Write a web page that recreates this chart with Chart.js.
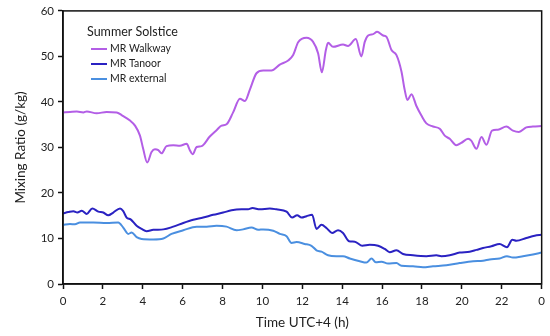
<!DOCTYPE html>
<html>
<head>
<meta charset="utf-8">
<script src="https://cdn.jsdelivr.net/npm/chart.js@4"></script>
<style>
  html, body { margin: 0; padding: 0; background: #fff; }
  #wrap { width: 550px; height: 336px; }
</style>
</head>
<body>
<div id="wrap"><canvas id="mrChart" width="550" height="336"></canvas></div>
<script>
// hours (UTC+4) and mixing ratio (g/kg)
const walkwayHours = [0, 0.35, 0.69, 1.02, 1.19, 1.69, 2.19, 2.69, 2.94, 3.36, 3.61, 3.86, 4.02, 4.22, 4.44, 4.61, 4.78, 4.94, 5.19, 5.53, 5.86, 6.2, 6.36, 6.5, 6.7, 6.95, 7.36, 7.7, 7.95, 8.2, 8.53, 8.87, 9.12, 9.37, 9.7, 10.04, 10.45, 10.87, 11.29, 11.54, 11.79, 12.21, 12.54, 12.79, 12.98, 13.18, 13.29, 13.54, 14.04, 14.29, 14.68, 14.96, 15.13, 15.3, 15.55, 15.75, 16.05, 16.22, 16.47, 16.72, 16.97, 17.13, 17.27, 17.47, 17.72, 17.97, 18.22, 18.55, 18.89, 19.14, 19.39, 19.72, 19.97, 20.31, 20.47, 20.73, 20.98, 21.23, 21.51, 21.81, 22.23, 22.56, 22.86, 23.23, 23.56, 24];
const walkwayValues = [37.7, 37.8, 37.9, 37.7, 37.9, 37.5, 37.8, 37.7, 37.1, 35.9, 34.8, 32.6, 29.7, 26.7, 29.0, 29.6, 29.4, 28.7, 30.3, 30.5, 30.4, 30.8, 29.4, 28.5, 30.1, 30.3, 32.4, 33.8, 34.8, 35.1, 37.7, 40.7, 40.2, 42.7, 46.3, 46.9, 46.9, 48.2, 49.1, 50.3, 53.1, 54.1, 53.2, 50.7, 46.5, 51.4, 53.0, 52.1, 52.6, 52.3, 53.8, 50.0, 53.2, 54.6, 54.9, 55.4, 54.6, 54.3, 51.4, 50.3, 46.7, 42.7, 40.4, 41.7, 39.1, 37.0, 35.3, 34.6, 34.1, 32.6, 31.9, 30.5, 31.0, 31.9, 31.5, 29.7, 32.3, 30.6, 33.7, 33.9, 34.6, 33.7, 33.4, 34.4, 34.6, 34.7];

const tanoorHours = [0, 0.27, 0.52, 0.72, 0.94, 1.19, 1.47, 1.77, 2.02, 2.27, 2.52, 2.86, 3.02, 3.19, 3.39, 3.69, 3.94, 4.19, 4.53, 5.03, 5.53, 6.03, 6.53, 7.03, 7.53, 8.03, 8.45, 8.95, 9.28, 9.5, 9.87, 10.37, 10.7, 11.21, 11.49, 11.74, 11.96, 12.21, 12.49, 12.71, 12.96, 13.21, 13.49, 13.79, 14.04, 14.34, 14.63, 15.01, 15.38, 15.8, 16.13, 16.38, 16.72, 17.05, 17.55, 18.22, 18.72, 18.97, 19.39, 19.89, 20.39, 20.73, 21.06, 21.48, 21.89, 22.26, 22.53, 22.73, 23.23, 23.65, 24];
const tanoorValues = [15.5, 15.8, 16.0, 15.7, 16.1, 15.4, 16.6, 15.9, 15.7, 15.1, 15.7, 16.6, 16.0, 14.6, 14.2, 12.8, 12.1, 11.6, 11.9, 12.0, 12.6, 13.4, 14.1, 14.6, 15.2, 15.7, 16.2, 16.4, 16.4, 16.7, 16.4, 16.6, 16.4, 15.9, 14.6, 15.1, 14.6, 14.9, 15.2, 12.1, 13.0, 12.3, 11.2, 11.8, 11.2, 9.4, 9.3, 8.4, 8.6, 8.4, 7.7, 7.0, 7.4, 6.6, 6.3, 6.1, 6.3, 6.1, 6.3, 6.9, 7.1, 7.5, 7.9, 8.3, 8.8, 8.1, 9.7, 9.5, 10.1, 10.6, 10.8];

const externalHours = [0, 0.35, 0.6, 0.85, 1.52, 2.19, 2.77, 3.02, 3.27, 3.44, 3.69, 3.94, 4.53, 5.03, 5.44, 6.03, 6.7, 7.2, 7.7, 8.2, 8.7, 9.03, 9.45, 9.79, 10.04, 10.54, 10.87, 11.21, 11.46, 11.71, 12.12, 12.46, 12.71, 12.96, 13.29, 13.71, 14.04, 14.38, 14.88, 15.21, 15.47, 15.68, 15.97, 16.3, 16.72, 16.97, 17.55, 18.05, 18.55, 19.22, 19.89, 20.56, 21.06, 21.39, 21.89, 22.26, 22.56, 23.06, 23.56, 24];
const externalValues = [13.0, 13.2, 13.1, 13.5, 13.5, 13.4, 13.5, 12.4, 11.0, 11.3, 10.3, 9.9, 9.8, 10.0, 11.0, 11.8, 12.6, 12.6, 12.8, 12.6, 11.8, 12.0, 12.4, 11.9, 12.0, 11.7, 11.0, 10.5, 9.0, 9.2, 8.8, 8.4, 7.4, 7.1, 6.3, 6.1, 6.1, 5.6, 5.0, 4.7, 5.6, 4.8, 4.9, 4.5, 4.6, 4.0, 3.9, 3.7, 3.9, 4.1, 4.6, 5.0, 5.1, 5.4, 5.6, 6.1, 5.8, 6.1, 6.5, 6.9];

const seriesLabels = ['MR Walkway', 'MR Tanoor', 'MR external'];
const seriesColors = ['#b35ee6', '#2a22c2', '#4a8fe0'];
const legendTitle = 'Summer Solstice';
const xTicks = [0, 2, 4, 6, 8, 10, 12, 14, 16, 18, 20, 22, 24];
const xTickLabels = ['0', '2', '4', '6', '8', '10', '12', '14', '16', '18', '20', '22', '0'];
const yTicks = [0, 10, 20, 30, 40, 50, 60];

function toPoints(hours, values) {
    return hours.map((h, i) => ({ x: h, y: values[i] }));
}

const fontFamily = 'Lato, "Open Sans", sans-serif';

// box around the plot area + legend drawn inside it
const framePlugin = {
    id: 'frame',
    afterDraw(chart) {
        const ctx = chart.ctx;
        const a = chart.chartArea;
        ctx.save();
        ctx.strokeStyle = '#111';
        ctx.lineWidth = 1.5;
        ctx.strokeRect(a.left, a.top, a.right - a.left, a.bottom - a.top);

        ctx.fillStyle = '#222';
        ctx.textBaseline = 'middle';
        ctx.textAlign = 'left';
        ctx.font = '12.5px ' + fontFamily;
        ctx.fillText(legendTitle, 87, 32);
        ctx.font = '10.5px ' + fontFamily;
        chart.data.datasets.forEach((ds, i) => {
            const y = 49 + i * 15;
            ctx.strokeStyle = ds.borderColor;
            ctx.lineWidth = 2;
            ctx.beginPath();
            ctx.moveTo(91, y);
            ctx.lineTo(107, y);
            ctx.stroke();
            ctx.fillStyle = '#222';
            ctx.fillText(ds.label, 110, y);
        });
        ctx.restore();
    }
};

new Chart(document.getElementById('mrChart'), {
    type: 'line',
    data: {
        datasets: [
            { label: seriesLabels[0], data: toPoints(walkwayHours, walkwayValues), borderColor: seriesColors[0] },
            { label: seriesLabels[1], data: toPoints(tanoorHours, tanoorValues), borderColor: seriesColors[1] },
            { label: seriesLabels[2], data: toPoints(externalHours, externalValues), borderColor: seriesColors[2] }
        ].map(ds => Object.assign(ds, {
            borderWidth: 2,
            pointRadius: 0,
            fill: false,
            cubicInterpolationMode: 'monotone'
        }))
    },
    options: {
        responsive: false,
        animation: false,
        layout: { padding: { top: 7, right: 8, left: 0, bottom: 0 } },
        plugins: {
            legend: { display: false },
            tooltip: { enabled: false }
        },
        scales: {
            x: {
                type: 'linear',
                min: 0,
                max: 24,
                afterFit: s => { s.height = 52; },
                afterBuildTicks: s => { s.ticks = xTicks.map(v => ({ value: v })); },
                ticks: {
                    color: '#222',
                    font: { family: fontFamily, size: 11.5 },
                    padding: 5,
                    maxRotation: 0,
                    callback: (v) => xTickLabels[xTicks.indexOf(v)]
                },
                grid: { drawOnChartArea: false, tickLength: 5, tickColor: '#111', tickWidth: 1.5 },
                border: { color: '#111', width: 1.5 },
                title: {
                    display: true,
                    text: 'Time UTC+4 (h)',
                    color: '#222',
                    font: { family: fontFamily, size: 13.5 },
                    padding: { top: 0, bottom: 5 }
                }
            },
            y: {
                min: 0,
                max: 60,
                afterFit: s => { s.width = 63; },
                afterBuildTicks: s => { s.ticks = yTicks.map(v => ({ value: v })); },
                ticks: {
                    color: '#222',
                    font: { family: fontFamily, size: 11.5 },
                    padding: 4
                },
                grid: { drawOnChartArea: false, tickLength: 5, tickColor: '#111', tickWidth: 1.5 },
                border: { color: '#111', width: 1.5 },
                title: {
                    display: true,
                    text: 'Mixing Ratio (g/kg)',
                    color: '#222',
                    font: { family: fontFamily, size: 13.5 },
                    padding: { top: 13, bottom: 0 }
                }
            }
        }
    },
    plugins: [framePlugin]
});
</script>
</body>
</html>
